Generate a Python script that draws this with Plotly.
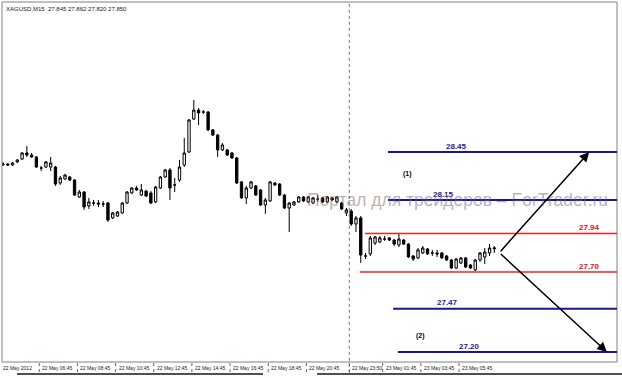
import plotly.graph_objects as go

# ---------------- data ----------------
bars = list(range(104))
opens = [28.369, 28.375, 28.369, 28.388, 28.406, 28.444, 28.431, 28.419, 28.350, 28.356,
         28.356, 28.356, 28.256, 28.281, 28.294, 28.275, 28.169, 28.200, 28.113, 28.131,
         28.131, 28.125, 28.131, 28.038, 28.050, 28.069, 28.131, 28.194, 28.225, 28.181,
         28.206, 28.194, 28.138, 28.225, 28.294, 28.338, 28.244, 28.275, 28.369, 28.450,
         28.656, 28.712, 28.700, 28.700, 28.588, 28.556, 28.463, 28.463, 28.444, 28.413,
         28.263, 28.163, 28.225, 28.238, 28.213, 28.119, 28.144, 28.256, 28.250, 28.181,
         28.100, 28.119, 28.138, 28.169, 28.138, 28.131, 28.156, 28.163, 28.138, 28.163,
         28.138, 28.131, 28.069, 28.081, 28.000, 28.038, 27.800, 27.813, 27.881, 27.888,
         27.906, 27.913, 27.900, 27.869, 27.900, 27.875, 27.800, 27.788, 27.819, 27.844,
         27.819, 27.819, 27.819, 27.800, 27.775, 27.725, 27.756, 27.788, 27.744, 27.713,
         27.775, 27.794, 27.819, 27.845]
highs = [28.388, 28.381, 28.388, 28.406, 28.450, 28.488, 28.444, 28.425, 28.363, 28.394,
         28.419, 28.363, 28.300, 28.313, 28.300, 28.281, 28.213, 28.206, 28.163, 28.150,
         28.150, 28.144, 28.138, 28.075, 28.081, 28.138, 28.206, 28.231, 28.238, 28.250,
         28.213, 28.206, 28.238, 28.300, 28.344, 28.350, 28.288, 28.400, 28.538, 28.656,
         28.775, 28.725, 28.712, 28.706, 28.594, 28.563, 28.506, 28.469, 28.450, 28.419,
         28.269, 28.238, 28.269, 28.244, 28.219, 28.163, 28.269, 28.263, 28.256, 28.188,
         28.138, 28.144, 28.175, 28.175, 28.175, 28.169, 28.181, 28.169, 28.175, 28.169,
         28.175, 28.138, 28.100, 28.094, 28.050, 28.050, 27.819, 27.925, 27.925, 27.925,
         27.925, 27.919, 27.906, 27.944, 27.906, 27.881, 27.806, 27.850, 27.863, 27.850,
         27.838, 27.838, 27.825, 27.806, 27.781, 27.788, 27.794, 27.794, 27.750, 27.781,
         27.825, 27.850, 27.875, 27.862]
lows = [28.363, 28.363, 28.363, 28.381, 28.400, 28.419, 28.413, 28.350, 28.331, 28.350,
        28.331, 28.238, 28.244, 28.275, 28.269, 28.175, 28.163, 28.088, 28.094, 28.113,
        28.106, 28.106, 28.013, 28.031, 28.044, 28.063, 28.125, 28.188, 28.206, 28.175,
        28.169, 28.125, 28.131, 28.219, 28.288, 28.150, 28.200, 28.263, 28.356, 28.444,
        28.650, 28.619, 28.688, 28.581, 28.550, 28.419, 28.456, 28.425, 28.406, 28.250,
        28.156, 28.125, 28.219, 28.175, 28.113, 28.063, 28.138, 28.238, 28.175, 28.094,
        27.950, 28.113, 28.131, 28.138, 28.131, 28.125, 28.138, 28.131, 28.131, 28.144,
        28.131, 28.088, 28.050, 27.988, 27.950, 27.756, 27.781, 27.800, 27.869, 27.881,
        27.894, 27.894, 27.863, 27.856, 27.869, 27.788, 27.769, 27.781, 27.813, 27.806,
        27.800, 27.794, 27.781, 27.769, 27.719, 27.719, 27.750, 27.725, 27.719, 27.706,
        27.763, 27.750, 27.800, 27.820]
closes = [28.375, 28.369, 28.381, 28.400, 28.444, 28.431, 28.419, 28.356, 28.350, 28.388,
          28.381, 28.250, 28.288, 28.306, 28.275, 28.181, 28.200, 28.106, 28.138, 28.131,
          28.125, 28.125, 28.025, 28.069, 28.075, 28.131, 28.200, 28.225, 28.213, 28.213,
          28.175, 28.131, 28.231, 28.294, 28.338, 28.225, 28.244, 28.356, 28.444, 28.650,
          28.712, 28.694, 28.700, 28.588, 28.556, 28.463, 28.494, 28.431, 28.413, 28.256,
          28.163, 28.225, 28.263, 28.181, 28.119, 28.150, 28.263, 28.244, 28.181, 28.100,
          28.131, 28.138, 28.169, 28.144, 28.169, 28.163, 28.156, 28.138, 28.169, 28.150,
          28.169, 28.094, 28.088, 28.000, 28.038, 27.806, 27.800, 27.913, 27.919, 27.913,
          27.906, 27.900, 27.875, 27.906, 27.875, 27.794, 27.781, 27.838, 27.850, 27.813,
          27.819, 27.813, 27.788, 27.775, 27.725, 27.781, 27.788, 27.731, 27.725, 27.775,
          27.819, 27.825, 27.850, 27.850]

title_text = "XAGUSD,M15  27.845 27.862 27.820 27.850"
first_label = "22 May 2012"
tick_bars = [8, 16, 24, 32, 40, 48, 56, 64, 73, 80, 88, 96]
tick_labels = ["22 May 06:45", "22 May 08:45", "22 May 10:45", "22 May 12:45",
               "22 May 14:45", "22 May 16:45", "22 May 18:45", "22 May 20:45",
               "22 May 23:50", "23 May 01:45", "23 May 03:45", "23 May 05:45"]

levels = [28.45, 28.15, 27.94, 27.70, 27.47, 27.20]
level_labels = ["28.45", "28.15", "27.94", "27.70", "27.47", "27.20"]

scenario_labels = ["(1)", "(2)"]
scenario_prices = [28.31, 27.30]

pivot_price = 27.821
watermark = "Портал для трейдеров – ForTrader.ru"

# ---------------- layout / style ----------------
BLUE = "#1414a8"
RED = "#ff1f1f"
level_start = [80.7, 80.7, 75.9, 74.8, 81.8, 82.8]
level_label_x = [95.1, 92.4, 122.9, 122.9, 93.1, 97.9]
level_color = [BLUE, BLUE, RED, RED, BLUE, BLUE]
level_width = [2, 2, 1.5, 1.5, 2, 2]
level_label_color = ["#1a1a9a", "#1a1a9a", "#e01010", "#e01010", "#1a1a9a", "#1a1a9a"]
scenario_x = [84.8, 87.6]
pivot_x = 104.05
up_tip_x = 122.9
down_tip_x = 126.6
XMIN, XMAX = -0.21, 128.72
YMIN, YMAX = 27.1375, 29.3875
AXIS_FONT = dict(family="Liberation Sans", size=5.0, color="#202020")

fig = go.Figure()
fig.add_trace(go.Candlestick(
    x=bars, open=opens, high=highs, low=lows, close=closes,
    increasing=dict(line=dict(color="black", width=1), fillcolor="white"),
    decreasing=dict(line=dict(color="black", width=1), fillcolor="black"),
    whiskerwidth=0, hoverinfo="skip", showlegend=False,
))

shapes = []
annotations = []

# frame
shapes.append(dict(type="rect", xref="paper", yref="paper", x0=0, x1=1, y0=0, y1=1,
                   line=dict(color="#808080", width=1), layer="above"))

# vertical dotted line
shapes.append(dict(type="line", xref="x", yref="paper", x0=72.6, x1=72.6, y0=-0.03, y1=1,
                   line=dict(color="#707070", width=1, dash="dot")))

# tick marks + labels
for b, t in zip(tick_bars, tick_labels):
    shapes.append(dict(type="line", xref="x", yref="paper", x0=b - 0.4, x1=b - 0.4,
                       y0=-0.028, y1=0, line=dict(color="#606060", width=1, dash="dot")))
    annotations.append(dict(x=b - 0.4, y=0, xref="x", yref="paper", text=t,
                            showarrow=False, xanchor="left", yanchor="top",
                            xshift=1, yshift=-1, font=AXIS_FONT))
annotations.append(dict(x=0, y=0, xref="paper", yref="paper", text=first_label,
                        showarrow=False, xanchor="left", yanchor="top", xshift=-1, yshift=-1,
                        font=AXIS_FONT))

# bottom bar lines
shapes.append(dict(type="line", xref="paper", yref="paper", x0=15 / 615, x1=261 / 615,
                   y0=-0.033, y1=-0.033, line=dict(color="#505050", width=2)))
shapes.append(dict(type="line", xref="paper", yref="paper", x0=315 / 615, x1=625 / 615,
                   y0=-0.033, y1=-0.033, line=dict(color="#505050", width=2)))

# levels
for lv, lab, xs, lx, c, w, lc in zip(levels, level_labels, level_start, level_label_x,
                                     level_color, level_width, level_label_color):
    shapes.append(dict(type="line", xref="x", yref="y", x0=xs, x1=XMAX, y0=lv, y1=lv,
                       line=dict(color=c, width=w)))
    annotations.append(dict(x=lx, y=lv, xref="x", yref="y", text="<b>" + lab + "</b>",
                            showarrow=False, xanchor="center", yanchor="middle", yshift=6,
                            font=dict(family="Liberation Sans", size=8, color=lc)))

# scenario labels
for t, sx, sp in zip(scenario_labels, scenario_x, scenario_prices):
    annotations.append(dict(x=sx, y=sp, xref="x", yref="y", text="<b>" + t + "</b>",
                            showarrow=False, xanchor="center", yanchor="middle",
                            font=dict(family="Liberation Sans", size=7, color="black")))

# arrows
for tipx, tipy in [(up_tip_x, levels[0]), (down_tip_x, levels[-1])]:
    annotations.append(dict(x=tipx, y=tipy, ax=pivot_x, ay=pivot_price, xref="x", yref="y",
                            axref="x", ayref="y", text="", showarrow=True, arrowhead=2,
                            arrowsize=1.3, arrowwidth=1.5, arrowcolor="black", standoff=0))

# title text
annotations.append(dict(x=0, y=1, xref="paper", yref="paper", text=title_text,
                        showarrow=False, xanchor="left", yanchor="top", xshift=2, yshift=-2,
                        font=dict(family="Liberation Sans", size=6, color="#202020")))

# watermark
annotations.append(dict(x=63.3, y=28.15, xref="x", yref="y", text=watermark,
                        showarrow=False, xanchor="left", yanchor="middle",
                        font=dict(family="Liberation Sans", size=17.5,
                                  color="rgba(125,100,100,0.5)")))

fig.update_layout(
    width=622, height=378,
    margin=dict(l=2, r=5, t=2, b=16),
    paper_bgcolor="white", plot_bgcolor="white",
    showlegend=False, hovermode=False,
    xaxis=dict(range=[XMIN, XMAX], showgrid=False, zeroline=False, showticklabels=False,
               ticks="", showline=False, rangeslider=dict(visible=False), fixedrange=True),
    yaxis=dict(range=[YMIN, YMAX], showgrid=False, zeroline=False, showticklabels=False,
               ticks="", showline=False, fixedrange=True),
    shapes=shapes, annotations=annotations,
)

fig.write_html("out.html", config={"displayModeBar": False})
